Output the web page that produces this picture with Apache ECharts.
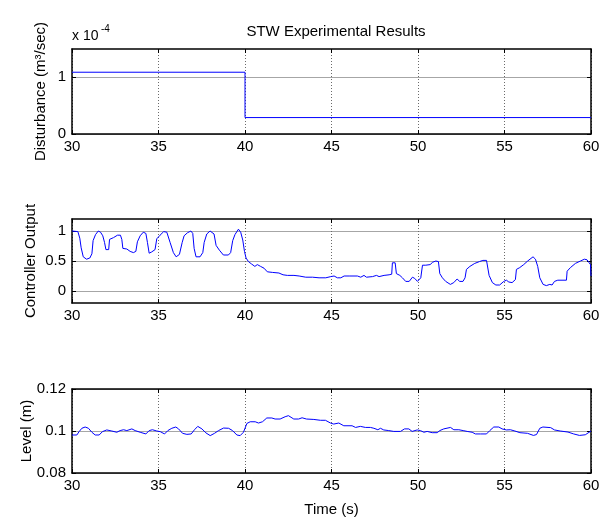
<!DOCTYPE html>
<html>
<head>
<meta charset="utf-8">
<script src="https://cdn.jsdelivr.net/npm/echarts@6/dist/echarts.min.js"></script>
<style>
html,body{margin:0;padding:0;background:#fff;}
#chart{width:608px;height:523px;}
</style>
</head>
<body>
<div id="chart"></div>
<script>
// ---------- data ----------
const titleText = 'STW Experimental Results';
const xTicks = [30, 35, 40, 45, 50, 55, 60];

// Disturbance (x 10^-4 m^3/sec)
const distT = [30, 40, 40, 60];
const distV = [1.09, 1.09, 0.29, 0.29];
const distTicks = [0, 1];

// Controller output
const coT = [30.0,30.34,30.45,30.53,30.65,30.84,31.03,31.15,31.22,31.36,31.52,31.65,31.78,31.88,31.96,32.12,32.17,32.4,32.63,32.8,32.88,32.94,33.17,33.36,33.55,33.69,33.78,33.94,34.12,34.27,34.36,34.46,34.6,34.8,34.9,35.09,35.3,35.48,35.67,35.86,36.02,36.21,36.37,36.48,36.67,36.87,36.98,37.06,37.17,37.4,37.56,37.64,37.79,37.98,38.21,38.33,38.52,38.75,39.04,39.17,39.29,39.42,39.62,39.75,39.87,39.97,40.06,40.2,40.38,40.57,40.71,40.9,41.1,41.29,41.58,41.96,42.2,42.45,42.83,42.93,43.13,43.51,43.9,44.28,44.67,44.96,45.15,45.34,45.54,45.73,46.02,46.5,46.69,46.88,47.02,47.37,47.6,47.75,48.04,48.33,48.48,48.52,48.68,48.75,48.95,49.1,49.29,49.49,49.68,49.81,49.97,50.06,50.16,50.26,50.45,50.7,50.85,51.03,51.18,51.26,51.41,51.6,51.87,52.07,52.26,52.41,52.6,52.72,52.8,53.0,53.28,53.55,53.75,53.96,54.05,54.11,54.3,54.5,54.72,54.96,55.11,55.25,55.44,55.63,55.69,55.88,56.11,56.34,56.65,56.79,56.92,57.04,57.23,57.42,57.62,57.75,57.89,58.08,58.58,58.62,58.81,59.1,59.39,59.62,59.77,59.87,59.97,60.0];
const coV = [1.0,0.99,0.88,0.72,0.57,0.53,0.55,0.62,0.84,0.94,1.0,0.98,0.92,0.81,0.69,0.69,0.86,0.89,0.93,0.93,0.86,0.71,0.70,0.66,0.64,0.66,0.82,0.92,0.98,0.96,0.81,0.63,0.65,0.69,0.87,0.93,0.99,0.98,0.81,0.64,0.57,0.61,0.81,0.92,0.97,1.0,0.96,0.71,0.57,0.57,0.64,0.81,0.95,1.0,0.95,0.76,0.68,0.6,0.6,0.64,0.84,0.94,1.03,0.98,0.85,0.66,0.55,0.49,0.45,0.41,0.44,0.41,0.38,0.32,0.31,0.30,0.27,0.26,0.26,0.27,0.25,0.23,0.23,0.22,0.22,0.24,0.25,0.22,0.22,0.25,0.25,0.25,0.23,0.26,0.23,0.24,0.26,0.24,0.26,0.27,0.28,0.47,0.47,0.29,0.26,0.22,0.16,0.16,0.23,0.21,0.16,0.17,0.22,0.43,0.43,0.44,0.48,0.5,0.49,0.29,0.22,0.16,0.11,0.14,0.2,0.16,0.16,0.22,0.36,0.41,0.46,0.49,0.51,0.51,0.49,0.26,0.14,0.10,0.10,0.16,0.18,0.15,0.14,0.19,0.36,0.39,0.44,0.5,0.57,0.53,0.41,0.22,0.11,0.09,0.11,0.10,0.16,0.18,0.18,0.33,0.39,0.46,0.5,0.53,0.52,0.48,0.44,0.25];
const coTicks = [0, 0.5, 1];

// Level (m)
const lvT = [30.0,30.28,30.41,30.57,30.76,30.95,31.15,31.34,31.57,31.76,32.01,32.3,32.59,32.78,32.98,33.17,33.46,33.65,33.94,34.27,34.46,34.65,34.9,35.1,35.35,35.54,35.77,36.0,36.16,36.39,36.64,36.89,37.08,37.27,37.51,37.74,37.99,38.24,38.47,38.76,39.05,39.28,39.53,39.72,39.91,40.11,40.3,40.59,40.78,41.01,41.26,41.55,41.74,42.03,42.32,42.51,42.82,43.1,43.3,43.55,43.98,44.36,44.65,44.94,45.13,45.42,45.71,46.19,46.39,46.67,46.96,47.25,47.45,47.68,47.83,48.02,48.31,48.6,48.99,49.22,49.47,49.66,49.95,50.14,50.34,50.53,50.82,51.11,51.26,51.49,51.88,52.07,52.36,52.61,52.84,53.13,53.32,53.61,53.96,54.15,54.38,54.67,54.86,55.11,55.34,55.6,55.89,56.33,56.67,56.85,57.04,57.22,57.67,57.89,58.22,58.67,59.0,59.33,59.67,60.0];
const lvV = [0.0981,0.0981,0.0997,0.1013,0.1019,0.1013,0.0994,0.0981,0.0981,0.0997,0.1005,0.1000,0.0994,0.1002,0.1006,0.1002,0.1010,0.1002,0.0994,0.0986,0.1002,0.1006,0.1000,0.0997,0.0986,0.1002,0.1013,0.1019,0.1010,0.0989,0.0984,0.0986,0.1006,0.1022,0.1010,0.0991,0.0978,0.0989,0.1002,0.1014,0.1013,0.1002,0.0981,0.0978,0.0994,0.1036,0.1044,0.1044,0.1038,0.1044,0.1062,0.1062,0.1057,0.1057,0.1068,0.1073,0.1057,0.1057,0.1063,0.1057,0.1055,0.1051,0.1051,0.1038,0.1033,0.1038,0.1025,0.1025,0.1017,0.1022,0.1017,0.1017,0.1013,0.1006,0.1013,0.1005,0.1002,0.0998,0.0998,0.1010,0.1010,0.0998,0.1005,0.1002,0.0994,0.0998,0.0992,0.0992,0.1002,0.1010,0.1017,0.1006,0.1006,0.1002,0.0998,0.0994,0.0986,0.0986,0.0986,0.1002,0.1019,0.1019,0.1010,0.1005,0.1006,0.1000,0.0992,0.0989,0.0979,0.0983,0.1013,0.1019,0.1016,0.1005,0.1000,0.0995,0.0986,0.0979,0.0982,0.1000];
const lvTicks = [0.08, 0.1, 0.12];

// ---------- chart ----------
const FONT = 'Liberation Sans, Arial, sans-serif';
const panels = [
  {top: 49,  height: 85, min: 0,    max: 1.5,  ticks: distTicks, name: 'Disturbance (m³/sec)', gap: 24, t: distT, v: distV},
  {top: 219, height: 84, min: -0.2, max: 1.2,  ticks: coTicks,   name: 'Controller Output',    gap: 34, t: coT,   v: coV},
  {top: 389, height: 84, min: 0.08, max: 0.12, ticks: lvTicks,   name: 'Level (m)',            gap: 38, t: lvT,   v: lvV}
];

const grid = panels.map(p => ({left: 72, width: 519, top: p.top, height: p.height, show: false}));
const frameLine = {show: true, onZero: false, lineStyle: {color: '#000', width: 1.5}};
const tickStyle = {show: true, inside: true, length: 4, lineStyle: {color: '#000', width: 1}};

const xAxis = [];
const yAxis = [];
panels.forEach((p, i) => {
  xAxis.push({
    gridIndex: i, type: 'value', min: 30, max: 60, interval: 5, position: 'bottom',
    axisLine: frameLine,
    axisTick: Object.assign({customValues: xTicks}, tickStyle),
    axisLabel: {customValues: xTicks, fontSize: 15, color: '#000', margin: 5, fontFamily: FONT},
    splitLine: {show: true, lineStyle: {color: '#6a6a6a', width: 1, type: [1, 2]}},
    name: i === 2 ? 'Time (s)' : '', nameLocation: 'middle', nameGap: 29, nameMoveOverlap: false,
    nameTextStyle: {fontSize: 15, color: '#000', fontFamily: FONT}
  });
});
panels.forEach((p, i) => {
  xAxis.push({
    gridIndex: i, type: 'value', min: 30, max: 60, interval: 5, position: 'top',
    axisLine: frameLine,
    axisTick: Object.assign({customValues: xTicks}, tickStyle),
    axisLabel: {show: false}, splitLine: {show: false}
  });
});
panels.forEach((p, i) => {
  yAxis.push({
    gridIndex: i, type: 'value', min: p.min, max: p.max, position: 'left',
    axisLine: frameLine,
    axisTick: Object.assign({customValues: p.ticks}, tickStyle),
    axisLabel: {customValues: p.ticks, fontSize: 15, color: '#000', margin: 6, fontFamily: FONT},
    splitLine: {show: true, lineStyle: {color: '#a6a6a6', width: 1.2}},
    name: p.name, nameLocation: 'middle', nameRotate: 90, nameGap: p.gap, nameMoveOverlap: false,
    nameTextStyle: {fontSize: 15, color: '#000', fontFamily: FONT}
  });
});
panels.forEach((p, i) => {
  yAxis.push({
    gridIndex: i, type: 'value', min: p.min, max: p.max, position: 'right',
    axisLine: frameLine,
    axisTick: Object.assign({customValues: p.ticks}, tickStyle),
    axisLabel: {show: false}, splitLine: {show: false}
  });
});

const series = panels.map((p, i) => ({
  type: 'line', xAxisIndex: i, yAxisIndex: i,
  data: p.t.map((t, k) => [t, p.v[k]]),
  showSymbol: false, symbol: 'none',
  lineStyle: {color: '#0000ff', width: 1},
  itemStyle: {color: '#0000ff'},
  z: 5
}));

const chart = echarts.init(document.getElementById('chart'), null, {renderer: 'canvas'});
chart.setOption({
  animation: false,
  backgroundColor: '#fff',
  title: {
    text: titleText, left: 331, top: 19, textAlign: 'center',
    textStyle: {fontSize: 15, fontWeight: 'normal', color: '#000', fontFamily: FONT}
  },
  graphic: [
    {type: 'text', left: 72, top: 29, style: {text: 'x 10', font: '14px ' + FONT, fill: '#000'}},
    {type: 'text', left: 101, top: 24, style: {text: '-4', font: '10px ' + FONT, fill: '#000'}}
  ],
  grid, xAxis, yAxis, series
});
</script>
</body>
</html>
